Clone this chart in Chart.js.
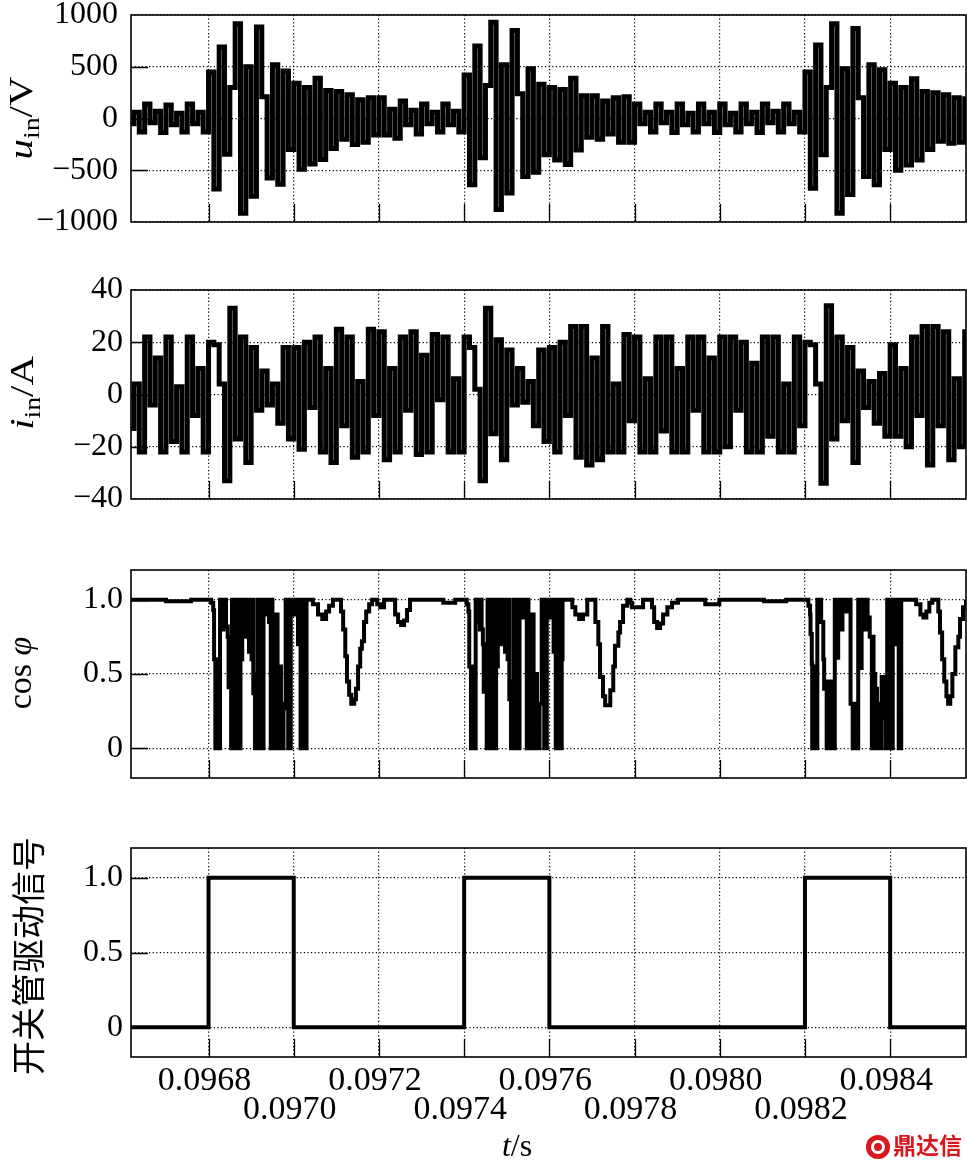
<!DOCTYPE html>
<html>
<head>
<meta charset="utf-8">
<title>开关管驱动信号与输入电压电流波形</title>
<script src="https://cdn.jsdelivr.net/npm/chart.js@4.4.1/dist/chart.umd.min.js"></script>
<style>
  body { margin: 0; background: #fff; }
  #wrap { position: relative; width: 967px; height: 1160px; overflow: hidden; background: #fff; }
  canvas { position: absolute; left: 0; }
  .ylab { position: absolute; transform: translate(-50%, -50%) rotate(-90deg); white-space: nowrap;
          font-family: 'Liberation Serif', serif; font-size: 34px; line-height: 1; color: #000; }
  .ylab.wide { transform: translate(-50%, -50%) rotate(-90deg) scaleX(1.2); }
  .ylab sub { font-size: 0.68em; vertical-align: -0.3em; line-height: 0; }
  .cjk { font-family: 'Noto Sans CJK SC', sans-serif; font-size: 34px; }
  #xlab { position: absolute; left: 517px; top: 1145px; transform: translate(-50%, -50%);
          font-family: 'Liberation Serif', serif; font-size: 32px; line-height: 1; white-space: nowrap; }
  #mark { position: absolute; left: 866px; top: 1131px; color: #d7191f; white-space: nowrap;
          font-family: 'Noto Sans CJK SC', sans-serif; font-weight: bold; font-size: 23px; line-height: 27px; }
  #mark span { display: inline-block; width: 24px; height: 24px; border-radius: 50%; background: #d7191f;
               box-shadow: inset 0 0 0 5px #d7191f, inset 0 0 0 8px #fff; vertical-align: -5px; margin-right: 3px; }
</style>
</head>
<body>
<div id="wrap">
  <canvas id="cU" width="967" height="240" style="top:0px"></canvas>
  <canvas id="cI" width="967" height="250" style="top:270px"></canvas>
  <canvas id="cCos" width="967" height="250" style="top:550px"></canvas>
  <canvas id="cSw" width="967" height="330" style="top:830px"></canvas>

  <div class="ylab wide" style="left:21px;top:118px"><i>u</i><sub>in</sub>/V</div>
  <div class="ylab wide" style="left:22px;top:393px"><i>i</i><sub>in</sub>/A</div>
  <div class="ylab" style="left:20px;top:673px">cos <i>φ</i></div>
  <div class="ylab cjk" style="left:27px;top:956px">开关管驱动信号</div>
  <div id="xlab"><i>t</i>/s</div>
  <div id="mark"><span></span>鼎达信</div>
</div>

<script>
// 时间单位: µs (96800 = 0.0968 s)
var sampleStart = 96600;
var sampleStep = 12.5;

// 输入电压 u_in (V), 每行 0.0002 s
var uIn = [
  140, -50, 60, -130, 140, -40, 70, -135, 130, -60, 50, -130, 140, -50, 60, -130,      // 0.0966
  450, -680, 690, -345, 300, 915, -915, 500, -750, 885, 210, -575, 520, -635, 460, -300, // 0.0968
  340, -490, 300, -440, 390, -395, 270, -290, 260, -200, 230, -250, 180, -230, 200, -160, // 0.0970
  200, -160, 90, -190, 170, -60, 80, -150, 140, -50, 60, -130, 140, -60, 70, -130,      // 0.0972
  420, -640, 700, -380, 320, 930, -880, 520, -720, 850, 240, -560, 480, -520, 330, -350, // 0.0974
  300, -400, 280, -445, 390, -305, 220, -180, 220, -200, 170, -150, 200, -230, 210, -230, // 0.0976
  140, -50, 60, -130, 140, -40, 60, -135, 140, -60, 50, -130, 140, -50, 60, -135,       // 0.0978
  140, -60, 50, -130, 140, -50, 60, -135, 140, -40, 70, -130, 140, -50, 60, -130,       // 0.0980
  450, -675, 710, -350, 300, 915, -915, 480, -735, 870, 200, -560, 520, -640, 470, -300, // 0.0982
  340, -500, 300, -450, 385, -400, 260, -300, 250, -220, 230, -240, 200, -230, 190, -160, // 0.0984
  150
];

// 输入电流 i_in (A)
var iIn = [
  22, -13, 4, -22, 22, -4, 14, -22, 22, -18, 3, -22, 22, -8, 10, -22,     // 0.0966
  20, 19, 4, -33, 33, -17, 22, -26, 18, -6, 9, -4, 4, -11, 18, -17,       // 0.0968
  18, -21, 20, -5, 22, -22, 10, -26, 25, -12, 22, -24, 5, -22, 25, -8,    // 0.0970
  24, -25, 10, -22, 22, -6, 24, -23, 15, -22, 23, -2, 22, -22, 6, -22,    // 0.0972
  22, 18, 2, -33, 33, -15, 21, -25, 17, -4, 10, -3, 5, -12, 17, -18,      // 0.0974
  18, -22, 20, -8, 26, -24, 26, -27, 14, -25, 26, -22, 4, -22, 23, -10,   // 0.0976
  22, -22, 6, -22, 22, -14, 22, -22, 10, -22, 22, -6, 22, -22, 14, -22,   // 0.0978
  22, -20, 22, -6, 20, -22, 12, -22, 22, -16, 22, -22, 4, -22, 22, -12,   // 0.0980
  20, 19, 4, -34, 34, -17, 22, -10, 18, -26, 9, -5, 5, -11, 8, -16,       // 0.0982
  19, -16, 10, -20, 22, -8, 26, -27, 26, -12, 24, -25, 6, -20, 24, -22,   // 0.0984
  20
];

// 功率因数 cos φ: [时间 µs, 值]
var cosPhi = [
  [96610, 1.0], [96698, 1.0], [96700, 0.99], [96757, 0.99], [96759, 1.0],
  // 第一次开通
  [96799, 1.0], [96806, 0.98], [96811, 0.93], [96813, 0.6], [96815, 0.6],
  [96816, 0], [96818, 0.6], [96819, 0], [96821, 0.12], [96822, 0], [96824, 0.6], [96825, 0],
  [96827, 1.0], [96829, 0.8], [96831, 1.0], [96833, 0.8], [96835, 1.0], [96837, 0.82], [96839, 1.0], [96841, 0.82],
  [96845, 0.75], [96847, 0.41], [96852, 0.41],
  [96853, 0], [96855, 1.0], [96857, 0], [96859, 1.0], [96861, 0.2], [96863, 1.0], [96865, 0], [96867, 0.9],
  [96869, 0], [96871, 1.0], [96873, 0], [96875, 0.6], [96877, 0.6], [96879, 1.0],
  [96884, 1.0], [96886, 0.75], [96888, 1.0], [96893, 1.0], [96895, 0.65], [96897, 1.0], [96901, 0.6], [96903, 1.0],
  [96905, 0.37], [96908, 0.37],
  [96909, 0], [96911, 0.5], [96913, 0], [96915, 1.0], [96917, 0], [96919, 0.8], [96921, 0], [96923, 1.0],
  [96925, 0], [96927, 0], [96929, 1.0], [96933, 0.9], [96936, 1.0], [96940, 1.0], [96942, 0.85], [96944, 0.85],
  [96946, 0], [96948, 1.0], [96950, 0], [96952, 0.9], [96954, 0], [96956, 0.6], [96958, 0], [96960, 0.9],
  [96962, 0], [96964, 0.55], [96966, 0], [96968, 0.55], [96970, 0], [96972, 0.3], [96974, 0], [96976, 0.27],
  [96979, 0.27], [96981, 1.0], [96985, 1.0], [96987, 0], [96989, 0.8], [96991, 0], [96993, 1.0], [96998, 1.0],
  [97000, 0.9], [97002, 0.9], [97004, 1.0], [97008, 1.0], [97010, 0.7], [97012, 1.0], [97015, 1.0],
  [97016, 0], [97018, 1.0], [97020, 0], [97022, 1.0], [97024, 0], [97026, 0.9], [97028, 0], [97030, 1.0], [97038, 1.0],
  [97045, 0.97], [97057, 0.9], [97067, 0.87], [97076, 0.92], [97083, 0.96], [97092, 1.0], [97104, 1.0],
  [97111, 0.92], [97116, 0.8], [97121, 0.62], [97125, 0.45], [97130, 0.36], [97135, 0.3], [97142, 0.33],
  [97146, 0.4], [97151, 0.55], [97156, 0.67], [97160, 0.72], [97165, 0.85], [97170, 0.92], [97177, 0.97],
  [97184, 1.0], [97196, 0.97], [97203, 0.95], [97212, 1.0], [97231, 1.0], [97238, 0.9], [97245, 0.85],
  [97252, 0.83], [97259, 0.86], [97266, 0.93], [97273, 1.0], [97344, 1.0], [97351, 0.98], [97372, 0.98],
  [97379, 1.0],
  // 第二次开通
  [97399, 1.0], [97406, 0.97], [97410, 0.92], [97412, 0.55], [97415, 0.55],
  [97416, 0], [97418, 0.55], [97419, 0], [97421, 0.1], [97422, 0], [97424, 0.55], [97425, 0],
  [97427, 1.0], [97429, 0.85], [97431, 1.0], [97433, 0.85], [97435, 1.0], [97437, 0.8], [97439, 1.0], [97441, 0.8],
  [97444, 0.7], [97446, 0.38], [97451, 0.38],
  [97453, 0], [97455, 1.0], [97457, 0], [97459, 1.0], [97461, 0.3], [97463, 1.0], [97465, 0], [97467, 0.85],
  [97469, 0], [97471, 1.0], [97473, 0], [97475, 0.55], [97477, 0.55], [97479, 1.0],
  [97485, 1.0], [97487, 0.7], [97489, 1.0], [97494, 1.0], [97496, 0.65], [97498, 1.0], [97502, 0.6], [97504, 1.0],
  [97506, 0.33], [97509, 0.33],
  [97510, 0], [97512, 0.45], [97514, 0], [97516, 1.0], [97518, 0], [97520, 0.85], [97522, 0], [97524, 1.0],
  [97526, 0], [97528, 0], [97530, 1.0], [97534, 0.88], [97537, 1.0], [97541, 1.0], [97543, 0.88], [97545, 0.88],
  [97547, 0], [97549, 1.0], [97551, 0], [97553, 0.9], [97555, 0], [97557, 0.5], [97559, 0], [97561, 0.9],
  [97563, 0], [97565, 0.5], [97567, 0], [97569, 0.5], [97571, 0], [97573, 0.3], [97575, 0], [97577, 0.3],
  [97580, 0.3], [97582, 1.0], [97586, 1.0], [97588, 0], [97590, 0.75], [97592, 0], [97594, 1.0], [97598, 1.0],
  [97600, 0.88], [97602, 0.88], [97604, 1.0], [97608, 1.0], [97610, 0.65], [97612, 1.0], [97614, 1.0],
  [97615, 0], [97617, 1.0], [97619, 0], [97621, 1.0], [97623, 0], [97625, 0.9], [97627, 0], [97629, 0.6],
  [97631, 1.0], [97636, 1.0],
  [97644, 1.0], [97654, 0.95], [97661, 0.9], [97670, 0.87], [97679, 0.9], [97689, 1.0], [97700, 1.0],
  [97708, 0.85], [97715, 0.7], [97719, 0.48], [97726, 0.35], [97731, 0.29], [97738, 0.29], [97743, 0.39],
  [97750, 0.55], [97754, 0.69], [97762, 0.78], [97766, 0.85], [97773, 0.96], [97783, 1.0], [97790, 0.98],
  [97794, 0.95], [97813, 0.95], [97820, 1.0], [97837, 1.0], [97841, 0.95], [97846, 0.85], [97853, 0.81],
  [97860, 0.84], [97867, 0.9], [97877, 0.95], [97888, 0.98], [97902, 1.0], [97959, 1.0], [97966, 0.97],
  [97992, 0.97], [97999, 1.0], [98102, 1.0], [98104, 0.99], [98154, 0.99], [98156, 1.0],
  // 第三次开通
  [98200, 1.0], [98208, 0.96], [98212, 0.9], [98213, 0.77], [98216, 0.57],
  [98217, 0], [98219, 0.55], [98220, 0], [98222, 0.55], [98224, 0], [98226, 0.55], [98227, 0],
  [98229, 1.0], [98231, 0.85], [98233, 1.0], [98236, 1.0], [98238, 0.85], [98241, 0.85], [98243, 0.6], [98245, 0.4],
  [98249, 0.4],
  [98251, 0], [98253, 0.45], [98255, 0], [98257, 0.45], [98259, 0], [98261, 0.45], [98263, 0], [98265, 0.3],
  [98267, 0], [98270, 1.0], [98272, 0.61], [98274, 1.0], [98276, 0.61], [98278, 1.0], [98284, 1.0], [98286, 0.8],
  [98288, 1.0], [98294, 1.0], [98296, 0.92], [98299, 0.92], [98301, 1.0], [98305, 1.0],
  [98307, 0.3], [98310, 0.3], [98312, 0], [98314, 0.3], [98316, 0], [98318, 0.3], [98320, 0], [98322, 0.2],
  [98323, 0], [98325, 1.0], [98327, 0.54], [98329, 1.0], [98331, 0.54], [98333, 1.0], [98340, 1.0], [98342, 0.8],
  [98344, 1.0], [98347, 0.88], [98351, 0.88], [98352, 0.75], [98355, 0.75],
  [98357, 0], [98359, 0.75], [98361, 0], [98363, 0.5], [98365, 0], [98367, 0.4], [98369, 0], [98371, 0.23],
  [98373, 0], [98375, 0.3], [98377, 0], [98379, 0], [98380, 0.48], [98383, 0.48], [98385, 0.2], [98388, 0.2],
  [98390, 0], [98392, 0], [98393, 1.0], [98398, 1.0], [98400, 0], [98402, 1.0], [98404, 0], [98406, 1.0],
  [98412, 1.0], [98414, 0.7], [98416, 1.0], [98419, 1.0], [98420, 0], [98422, 1.0], [98424, 0], [98426, 1.0],
  [98454, 1.0],
  [98461, 0.97], [98471, 0.9], [98478, 0.88], [98485, 0.92], [98492, 0.98], [98499, 1.0], [98508, 1.0],
  [98513, 0.92], [98517, 0.78], [98522, 0.6], [98527, 0.45], [98532, 0.35], [98536, 0.3], [98541, 0.35],
  [98546, 0.5], [98553, 0.68], [98560, 0.75], [98564, 0.87], [98571, 0.95], [98578, 1.0], [98593, 1.0]
];

// 开关管驱动信号
var switchTime = [96600, 96800, 97000, 97400, 97600, 98200, 98400, 98600];
var switchLevel = [0, 1, 0, 1, 0, 1, 0, 0];

// 坐标刻度
var xTicks = [96800, 97000, 97200, 97400, 97600, 97800, 98000, 98200, 98400];
var xTickLabels = ['0.0968', '0.0970', '0.0972', '0.0974', '0.0976', '0.0978', '0.0980', '0.0982', '0.0984'];
var uTicks = [-1000, -500, 0, 500, 1000];
var uTickLabels = ['\u22121000', '\u2212500', '0', '500', '1000'];
var iTicks = [-40, -20, 0, 20, 40];
var iTickLabels = ['\u221240', '\u221220', '0', '20', '40'];
var unitTicks = [0, 0.5, 1];
var unitTickLabels = ['0', '0.5', '1.0'];

function sampled(values) {
    return values.map(function (v, k) {
        return { x: sampleStart + k * sampleStep, y: v };
    });
}

function fromPairs(list) {
    return list.map(function (p) { return { x: p[0], y: p[1] }; });
}

function zip(times, levels) {
    return times.map(function (t, k) { return { x: t, y: levels[k] }; });
}

// 边框 + 向内的刻度线
var frame = {
    id: 'frame',
    afterDraw: function (chart) {
        var ctx = chart.ctx, a = chart.chartArea, sx = chart.scales.x, sy = chart.scales.y;
        ctx.save();
        ctx.setLineDash([]);
        ctx.strokeStyle = '#000';
        ctx.lineWidth = 1.3;
        ctx.beginPath();
        sy.ticks.forEach(function (t) {
            var y = Math.round(sy.getPixelForValue(t.value)) + 0.5;
            if (y > a.top + 2 && y < a.bottom - 2) {
                ctx.moveTo(a.left, y);
                ctx.lineTo(a.left + 17, y);
            }
        });
        sx.ticks.forEach(function (t) {
            var x = Math.round(sx.getPixelForValue(t.value)) + 0.5;
            ctx.moveTo(x, a.bottom);
            ctx.lineTo(x, a.bottom - 18);
        });
        ctx.stroke();
        ctx.lineWidth = 1.6;
        ctx.strokeRect(a.left, a.top, a.right - a.left, a.bottom - a.top);
        ctx.restore();
    }
};

function makePanel(id, opt) {
    return new Chart(document.getElementById(id), {
        type: 'line',
        data: {
            datasets: [{
                data: opt.data,
                borderColor: '#000',
                borderWidth: opt.lineWidth,
                stepped: opt.stepped,
                borderJoinStyle: opt.join,
                pointRadius: 0,
                fill: false,
                clip: 0
            }]
        },
        options: {
            animation: false,
            responsive: false,
            maintainAspectRatio: false,
            devicePixelRatio: 1,
            events: [],
            layout: { padding: { top: opt.padTop, right: 1, left: 0, bottom: 0 } },
            plugins: { legend: { display: false }, tooltip: { enabled: false } },
            scales: {
                x: {
                    type: 'linear',
                    min: 96618,
                    max: 98578,
                    afterBuildTicks: function (s) { s.ticks = xTicks.map(function (v) { return { value: v }; }); },
                    afterFit: function (s) {
                        s.height = opt.xHeight;
                        s.paddingLeft = 0;
                        s.paddingRight = 0;
                    },
                    grid: { color: '#000', lineWidth: 1.2, drawTicks: false },
                    border: { display: false, dash: [1.2, 2.4] },
                    ticks: {
                        display: opt.showX,
                        autoSkip: false,
                        maxRotation: 0,
                        minRotation: 0,
                        padding: 9,
                        labelOffset: -4,
                        color: '#000',
                        font: { family: 'Liberation Serif', size: 34, lineHeight: 0.86 },
                        callback: function (v, i) {
                            // 标签上下错开
                            return i % 2 === 0 ? [xTickLabels[i], ''] : ['', xTickLabels[i]];
                        }
                    }
                },
                y: {
                    min: opt.yMin,
                    max: opt.yMax,
                    afterBuildTicks: function (s) { s.ticks = opt.yTicks.map(function (v) { return { value: v }; }); },
                    afterFit: function (s) {
                        s.width = 131;
                        s.paddingTop = 0;
                        s.paddingBottom = 0;
                    },
                    grid: { color: '#000', lineWidth: 1.2, drawTicks: false },
                    border: { display: false, dash: [1.2, 2.4] },
                    ticks: {
                        autoSkip: false,
                        padding: opt.yPad,
                        color: '#000',
                        font: { family: 'Liberation Serif', size: 32 },
                        callback: function (v, i) { return opt.yLabels[i]; }
                    }
                }
            }
        },
        plugins: [frame]
    });
}

window.onload = function () {
    makePanel('cU', {
        data: sampled(uIn), lineWidth: 5, stepped: true, join: 'miter',
        padTop: 15, xHeight: 18, showX: false,
        yMin: -1000, yMax: 1000, yTicks: uTicks, yLabels: uTickLabels, yPad: 13
    });
    makePanel('cI', {
        data: sampled(iIn), lineWidth: 5, stepped: true, join: 'miter',
        padTop: 20, xHeight: 21, showX: false,
        yMin: -40, yMax: 40, yTicks: iTicks, yLabels: iTickLabels, yPad: 8
    });
    makePanel('cCos', {
        data: fromPairs(cosPhi), lineWidth: 4, stepped: true, join: 'miter',
        padTop: 20, xHeight: 22, showX: false,
        yMin: -0.2, yMax: 1.2, yTicks: unitTicks, yLabels: unitTickLabels, yPad: 8
    });
    makePanel('cSw', {
        data: zip(switchTime, switchLevel), lineWidth: 4, stepped: true, join: 'miter',
        padTop: 18, xHeight: 103, showX: true,
        yMin: -0.2, yMax: 1.2, yTicks: unitTicks, yLabels: unitTickLabels, yPad: 8
    });
};
</script>
</body>
</html>
